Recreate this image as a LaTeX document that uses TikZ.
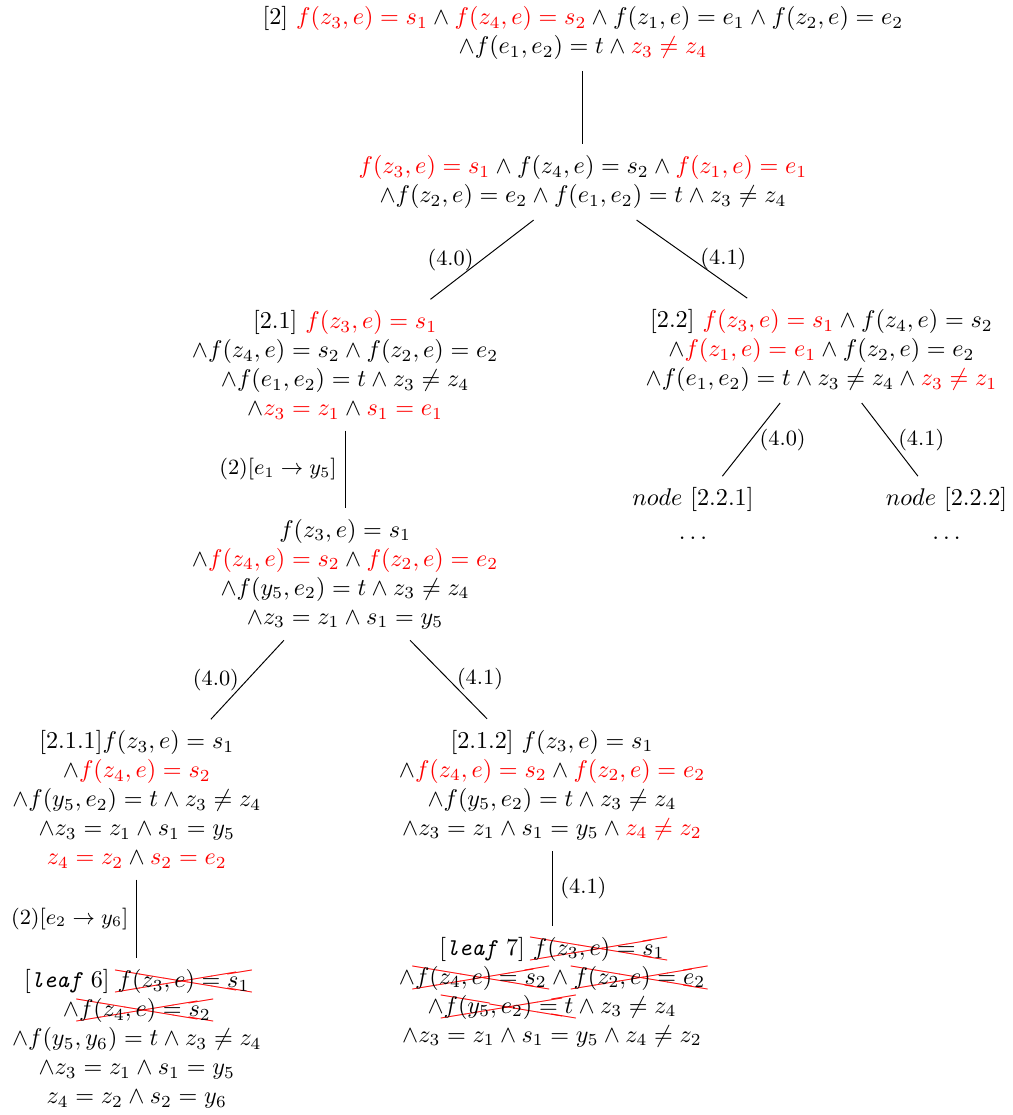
\documentclass[tikz,border=0pt]{standalone}
\usepackage{cancel}
\renewcommand{\CancelColor}{\color{red}}
\newcommand{\rd}[1]{\textcolor{red}{#1}}
\newcommand{\leafname}{\textit{\texttt{leaf}}}
\begin{document}
\begin{tikzpicture}[every node/.style={align=center,inner sep=4.5pt},
		lbl/.style={font=\small,inner sep=3.3pt}]
%  		\draw[gray!40] (0,-16) grid (15,0);
		\useasboundingbox (0,0) rectangle (14.73,-16.22);

		\draw (8.48,-0.48) node (n2) {[2] $\rd{f(z_3,e)=s_1}\wedge\rd{f(z_4,e)=s_2}\wedge f(z_1,e)=e_1\wedge f(z_2,e)=e_2$\\
				$\wedge f(e_1,e_2)=t\wedge\rd{z_3\neq z_4}$}
			(8.48,-2.65) node (n2s) {$\rd{f(z_3,e)=s_1}\wedge f(z_4,e)=s_2\wedge\rd{f(z_1,e)=e_1}$\\
				$\wedge f(z_2,e)=e_2\wedge f(e_1,e_2)=t\wedge z_3\neq z_4$};

		\draw (5.02,-5.31) node (n21) {[2.1] $\rd{f(z_3,e)=s_1}$\\
				$\wedge f(z_4,e)=s_2\wedge f(z_2,e)=e_2$\\
				$\wedge f(e_1,e_2)=t\wedge z_3\neq z_4$\\
				$\wedge\rd{z_3=z_1}\wedge\rd{s_1=e_1}$}
			(5.02,-8.35) node (n21s) {$f(z_3,e)=s_1$\\
				$\wedge\rd{f(z_4,e)=s_2}\wedge\rd{f(z_2,e)=e_2}$\\
				$\wedge f(y_5,e_2)=t\wedge z_3\neq z_4$\\
				$\wedge z_3=z_1\wedge s_1=y_5$};

		\draw (1.99,-11.63) node (n211) {[2.1.1]$f(z_3,e)=s_1$\\
				$\wedge\rd{f(z_4,e)=s_2}$\\
				$\wedge f(y_5,e_2)=t\wedge z_3\neq z_4$\\
				$\wedge z_3=z_1\wedge s_1=y_5$\\
				$\rd{z_4=z_2}\wedge\rd{s_2=e_2}$}
			(1.99,-15.11) node (leaf6) {[\leafname{} 6] $\xcancel{f(z_3,e)=s_1}$\\
				$\wedge\xcancel{f(z_4,e)=s_2}$\\
				$\wedge f(y_5,y_6)=t\wedge z_3\neq z_4$\\
				$\wedge z_3=z_1\wedge s_1=y_5$\\
				$z_4=z_2\wedge s_2=y_6$};

		\draw (8.03,-11.42) node (n212) {[2.1.2] $f(z_3,e)=s_1$\\
				$\wedge\rd{f(z_4,e)=s_2}\wedge\rd{f(z_2,e)=e_2}$\\
				$\wedge f(y_5,e_2)=t\wedge z_3\neq z_4$\\
				$\wedge z_3=z_1\wedge s_1=y_5\wedge\rd{z_4\neq z_2}$}
			(8.03,-14.43) node (leaf7) {[\leafname{} 7] $\xcancel{f(z_3,e)=s_1}$\\
				$\wedge\xcancel{f(z_4,e)=s_2}\wedge\xcancel{f(z_2,e)=e_2}$\\
				$\wedge\xcancel{f(y_5,e_2)=t}\wedge z_3\neq z_4$\\
				$\wedge z_3=z_1\wedge s_1=y_5\wedge z_4\neq z_2$};

		\draw (11.95,-5.10) node (n22) {[2.2] $\rd{f(z_3,e)=s_1}\wedge f(z_4,e)=s_2$\\
				$\wedge\rd{f(z_1,e)=e_1}\wedge f(z_2,e)=e_2$\\
				$\wedge f(e_1,e_2)=t\wedge z_3\neq z_4\wedge\rd{z_3\neq z_1}$}
			(10.08,-7.47) node (n221) {$node$ [2.2.1]\\[2pt] $\dots$}
			(13.77,-7.47) node (n222) {$node$ [2.2.2]\\[2pt] $\dots$};

		\draw (n2) -- (n2s);
		\draw (n2s) -- (n21) node[lbl,midway,left]{(4.0)};
		\draw (n2s) -- (n22) node[lbl,midway,right]{(4.1)};
		\draw (n21) -- (n21s) node[lbl,midway,left]{(2)$[e_1\rightarrow y_5]$};
		\draw (n21s) -- (n211) node[lbl,midway,left]{(4.0)};
		\draw (n21s) -- (n212) node[lbl,midway,right]{(4.1)};
		\draw (n211) -- (leaf6) node[lbl,midway,left]{(2)$[e_2\rightarrow y_6]$};
		\draw (n212) -- (leaf7) node[lbl,midway,right]{(4.1)};
		\draw (n22) -- (n221) node[lbl,midway,right]{(4.0)};
		\draw (n22) -- (n222) node[lbl,midway,right]{(4.1)};
	\end{tikzpicture}
\end{document}
